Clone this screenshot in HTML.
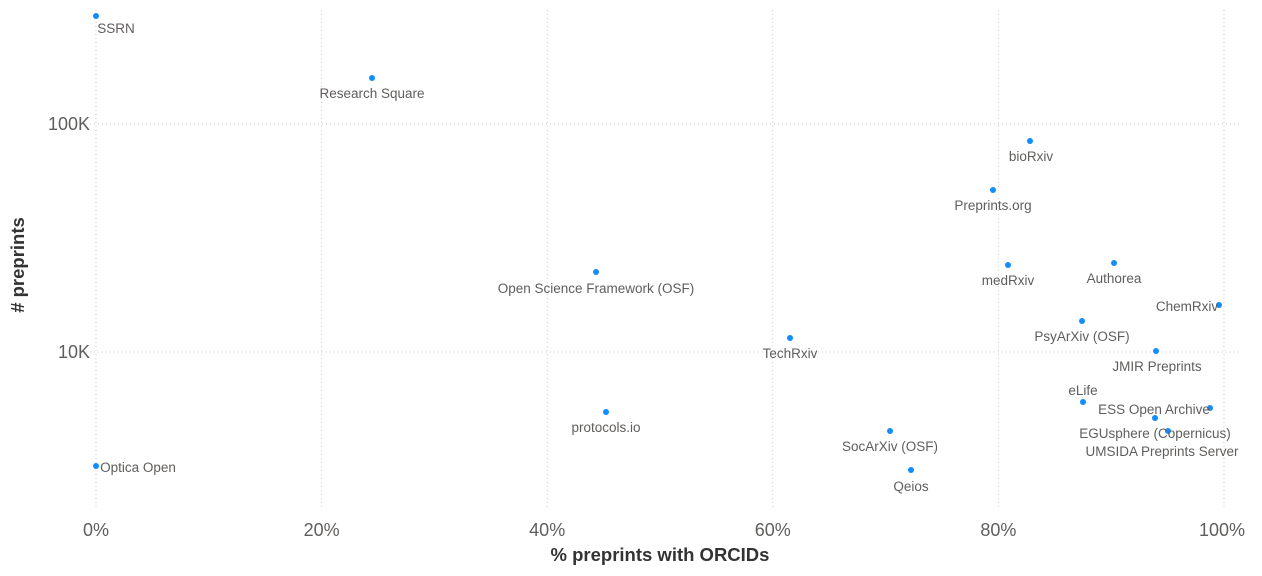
<!DOCTYPE html><html><head><style>body{margin:0;background:#fff}svg{display:block}</style></head><body>
<svg width="1262" height="576" xmlns="http://www.w3.org/2000/svg" font-family="'Liberation Sans',sans-serif">
<g stroke="#ccc" stroke-dasharray="1 3" stroke-width="1">
<line x1="96" y1="10" x2="96" y2="510"/><line x1="321.6" y1="10" x2="321.6" y2="510"/><line x1="547.2" y1="10" x2="547.2" y2="510"/><line x1="772.8" y1="10" x2="772.8" y2="510"/><line x1="998.4" y1="10" x2="998.4" y2="510"/><line x1="1224" y1="10" x2="1224" y2="510"/>
<line x1="86" y1="124" x2="1240" y2="124"/><line x1="86" y1="352" x2="1240" y2="352"/>
</g>
<g fill="#605E5C" font-size="18" text-anchor="end"><text x="90" y="130">100K</text><text x="90" y="358">10K</text></g>
<g fill="#605E5C" font-size="18" text-anchor="middle"><text x="96" y="536">0%</text><text x="321.6" y="536">20%</text><text x="547.2" y="536">40%</text><text x="772.8" y="536">60%</text><text x="998.4" y="536">80%</text><text x="1222" y="536">100%</text></g>
<text x="660" y="561" text-anchor="middle" font-size="18.5" font-weight="bold" fill="#333">% preprints with ORCIDs</text>
<text transform="translate(24,265) rotate(-90)" text-anchor="middle" font-size="18.5" font-weight="bold" fill="#333"># preprints</text>
<g fill="#118DFF">
<circle cx="96" cy="16" r="3"/><circle cx="372" cy="78" r="3"/><circle cx="1030" cy="141" r="3"/><circle cx="993" cy="190" r="3"/><circle cx="1114" cy="263" r="3"/><circle cx="1008" cy="265" r="3"/><circle cx="596" cy="272" r="3"/><circle cx="1219" cy="305" r="3"/><circle cx="1082" cy="321" r="3"/><circle cx="790" cy="338" r="3"/><circle cx="1156" cy="351" r="3"/><circle cx="1083" cy="402" r="3"/><circle cx="1210" cy="408" r="3"/><circle cx="606" cy="412" r="3"/><circle cx="1155" cy="418" r="3"/><circle cx="1168" cy="431" r="3"/><circle cx="890" cy="431" r="3"/><circle cx="96" cy="466" r="3"/><circle cx="911" cy="470" r="3"/>
</g>
<g fill="#605E5C" font-size="13.5" text-anchor="middle">
<text x="116" y="33">SSRN</text><text x="372" y="98">Research Square</text><text x="1031" y="161">bioRxiv</text><text x="993" y="210">Preprints.org</text><text x="1114" y="283">Authorea</text><text x="1008" y="285">medRxiv</text><text x="596" y="293">Open Science Framework (OSF)</text><text x="1187" y="311">ChemRxiv</text><text x="1082" y="341">PsyArXiv (OSF)</text><text x="790" y="358">TechRxiv</text><text x="1157" y="371">JMIR Preprints</text><text x="1083" y="395">eLife</text><text x="1154" y="414">ESS Open Archive</text><text x="606" y="432">protocols.io</text><text x="1155" y="438">EGUsphere (Copernicus)</text><text x="1162" y="456">UMSIDA Preprints Server</text><text x="890" y="451">SocArXiv (OSF)</text><text x="138" y="472">Optica Open</text><text x="911" y="491">Qeios</text>
</g>
</svg></body></html>
